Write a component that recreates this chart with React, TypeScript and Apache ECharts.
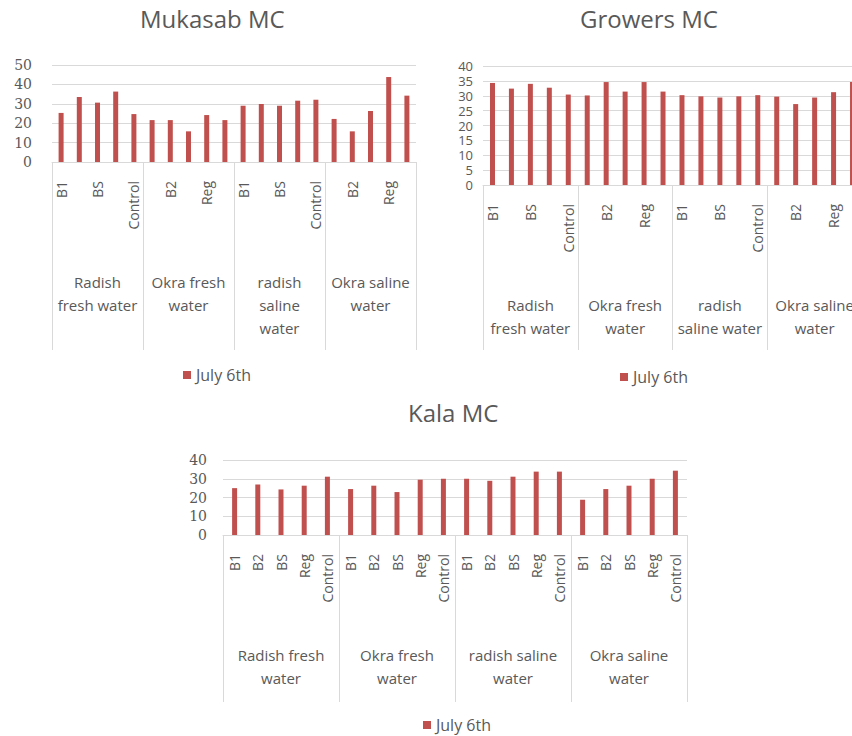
import React, { useEffect, useRef } from "react";
import * as echarts from "echarts";

const seriesName = "July 6th";
const treatments = ["B1", "B2", "BS", "Reg", "Control"];
const groups = ["Radish fresh water", "Okra fresh water", "radish saline water", "Okra saline water"];

const mukasabGroupLabels = ["Radish\nfresh water", "Okra fresh\nwater", "radish\nsaline\nwater", "Okra saline\nwater"];
const growersGroupLabels = ["Radish\nfresh water", "Okra fresh\nwater", "radish\nsaline water", "Okra saline\nwater"];
const kalaGroupLabels = ["Radish fresh\nwater", "Okra fresh\nwater", "radish saline\nwater", "Okra saline\nwater"];

const mukasabValues = [25.3, 33.5, 30.6, 36.3, 24.7, 21.6, 21.6, 15.8, 24.2, 21.6, 29.0, 29.9, 29.0, 31.6, 32.1, 22.2, 15.8, 26.3, 43.8, 34.2];
const growersValues = [34.3, 32.4, 34.0, 32.7, 30.4, 30.1, 34.6, 31.4, 34.6, 31.4, 30.2, 29.8, 29.4, 29.8, 30.2, 29.7, 27.2, 29.4, 31.2, 34.6];
const kalaValues = [25.0, 27.0, 24.3, 26.3, 31.1, 24.5, 26.3, 22.9, 29.5, 30.0, 30.0, 28.9, 31.1, 33.8, 33.8, 18.8, 24.5, 26.3, 30.0, 34.3];

const mukasabTicks = { min: 0, max: 50, interval: 10 };
const growersTicks = { min: 0, max: 40, interval: 5 };
const kalaTicks = { min: 0, max: 40, interval: 10 };

const titles = ["Mukasab MC", "Growers MC", "Kala MC"];

const BAR = "#c0504d";
const TXT = "#595959";
const GRID = "#d9d9d9";

const innerCategories = groups.flatMap(() => treatments);

export default function App() {
  const ref = useRef<HTMLDivElement>(null);
  useEffect(() => {
    if (!ref.current) return;
    const chart = echarts.init(ref.current, null, { renderer: "svg" });

    const grids = [
      { left: 52, top: 65, width: 364, height: 97, outerBoundsMode: "none", containLabel: false },
      { left: 483, top: 66, width: 379, height: 119, outerBoundsMode: "none", containLabel: false },
      { left: 223, top: 460, width: 464, height: 75, outerBoundsMode: "none", containLabel: false },
    ];
    const yCfg = [
      { ticks: mukasabTicks, font: "DejaVu Serif", size: 14, margin: 20 },
      { ticks: growersTicks, font: "Open Sans", size: 13, margin: 10 },
      { ticks: kalaTicks, font: "DejaVu Serif", size: 14, margin: 16 },
    ];
    const xCfg = [
      { interval: 1, sepLen: 188, groupLabels: mukasabGroupLabels },
      { interval: 1, sepLen: 165, groupLabels: growersGroupLabels },
      { interval: 0, sepLen: 167, groupLabels: kalaGroupLabels },
    ];
    const values = [mukasabValues, growersValues, kalaValues];

    const xAxis: any[] = [];
    xCfg.forEach((c, i) => {
      xAxis.push({
        type: "category",
        gridIndex: i,
        position: "bottom",
        data: innerCategories,
        axisLine: { show: true, lineStyle: { color: GRID } },
        axisTick: { show: false },
        axisLabel: {
          interval: c.interval,
          rotate: 90,
          margin: 19,
          color: TXT,
          fontFamily: "Open Sans",
          fontSize: 14,
        },
      });
      xAxis.push({
        type: "category",
        gridIndex: i,
        position: "bottom",
        data: groups,
        axisLine: { show: false },
        axisTick: { show: true, interval: 0, length: c.sepLen, lineStyle: { color: GRID } },
        axisLabel: {
          interval: 0,
          margin: 108,
          color: TXT,
          fontFamily: "Open Sans",
          fontSize: 15,
          lineHeight: 23,
          hideOverlap: false,
          formatter: (_v: string, idx: number) => c.groupLabels[idx],
        },
      });
    });

    const yAxis = yCfg.map((c, i) => ({
      type: "value",
      gridIndex: i,
      min: c.ticks.min,
      max: c.ticks.max,
      interval: c.ticks.interval,
      axisLine: { show: false },
      axisTick: { show: false },
      splitLine: { lineStyle: { color: GRID } },
      axisLabel: { color: TXT, fontFamily: c.font, fontSize: c.size, lineHeight: c.size, margin: c.margin },
    }));

    const series = values.map((v, i) => ({
      type: "bar",
      name: seriesName,
      xAxisIndex: i * 2,
      yAxisIndex: i,
      data: v,
      barWidth: 5,
      itemStyle: { color: BAR },
    }));

    const titlePos = [
      { left: 140, top: 6 },
      { left: 580, top: 6 },
      { left: 408, top: 400 },
    ];
    const legendPos = [
      { left: 183, top: 367 },
      { left: 620, top: 369 },
      { left: 423, top: 717 },
    ];

    chart.setOption({
      animation: false,
      backgroundColor: "#ffffff",
      title: titles.map((t, i) => ({
        text: t,
        left: titlePos[i].left,
        top: titlePos[i].top,
        padding: 0,
        textStyle: { color: TXT, fontFamily: "Open Sans", fontSize: 24, fontWeight: "normal" },
      })),
      legend: legendPos.map((p) => ({
        data: [seriesName],
        left: p.left,
        top: p.top,
        padding: 0,
        icon: "rect",
        itemWidth: 8,
        itemHeight: 8,
        itemGap: 5,
        textStyle: { color: TXT, fontFamily: "Open Sans", fontSize: 16 },
      })),
      grid: grids,
      xAxis,
      yAxis,
      series,
    });

    return () => chart.dispose();
  }, []);

  return (
    <div
      ref={ref}
      style={{ position: "fixed", left: 0, top: 0, width: 852, height: 736, background: "#fff" }}
    />
  );
}
